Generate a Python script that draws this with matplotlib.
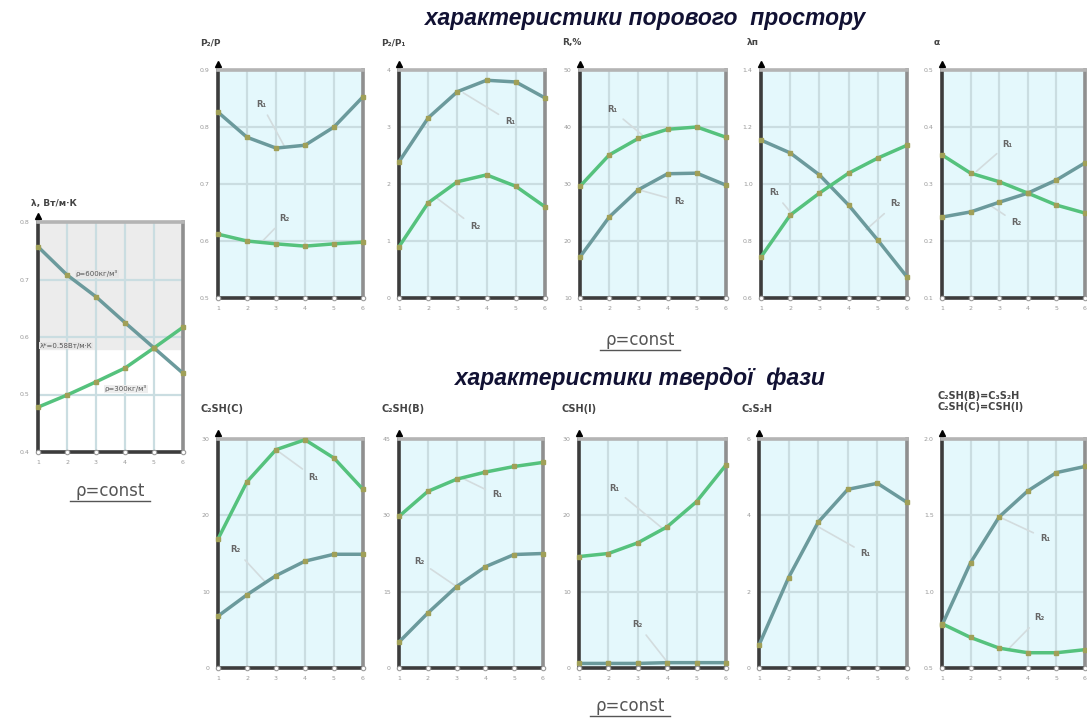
import matplotlib.pyplot as plt
from matplotlib.lines import Line2D

# common x values (1..6)
x = [1, 2, 3, 4, 5, 6]

# left panel: thermal conductivity
lam_600 = [0.757, 0.708, 0.670, 0.625, 0.581, 0.537]
lam_300 = [0.478, 0.499, 0.522, 0.546, 0.581, 0.617]
lam_star = 0.58

# pore space characteristics (top row)
p2p_r1 = [0.826, 0.782, 0.763, 0.768, 0.800, 0.853]
p2p_r2 = [0.612, 0.600, 0.595, 0.591, 0.595, 0.598]
p2p1_r1 = [2.39, 3.16, 3.62, 3.82, 3.79, 3.51]
p2p1_r2 = [0.90, 1.67, 2.04, 2.16, 1.96, 1.60]
rpct_r1 = [29.6, 35.1, 38.0, 39.6, 40.0, 38.2]
rpct_r2 = [17.2, 24.2, 29.0, 31.8, 31.9, 29.8]
lamp_r1 = [0.744, 0.891, 0.968, 1.038, 1.091, 1.136]
lamp_r2 = [1.154, 1.109, 1.032, 0.926, 0.803, 0.674]
alpha_r1 = [0.351, 0.319, 0.304, 0.284, 0.263, 0.249]
alpha_r2 = [0.242, 0.251, 0.268, 0.284, 0.307, 0.337]

# solid phase characteristics (bottom row)
c2shc_r1 = [16.9, 24.4, 28.6, 29.9, 27.5, 23.4]
c2shc_r2 = [6.8, 9.6, 12.1, 14.0, 14.9, 14.9]
c2shb_r1 = [29.8, 34.7, 37.1, 38.5, 39.6, 40.4]
c2shb_r2 = [5.1, 10.8, 16.0, 19.9, 22.3, 22.5]
cshi_r1 = [14.6, 15.0, 16.4, 18.5, 21.8, 26.6]
cshi_r2 = [0.6, 0.6, 0.6, 0.7, 0.7, 0.7]
c3s2h_r1 = [0.60, 2.37, 3.82, 4.68, 4.84, 4.34]
ratio_r1 = [0.78, 1.19, 1.49, 1.66, 1.78, 1.82]
ratio_r2 = [0.79, 0.70, 0.63, 0.60, 0.60, 0.62]

BG = '#e4f8fc'
BLUE = '#6b9a9c'
GREEN = '#55c27d'
GRID = '#cadde1'
MARK = '#a0a058'
TXT = '#666666'

fig = plt.figure(figsize=(10.87, 7.2), dpi=100)
W, H = 1087, 720


def px_axes(x0, x1, ytop, ybot):
    return fig.add_axes([x0 / W, 1 - ybot / H, (x1 - x0) / W, (ybot - ytop) / H])


def style(ax, ylim, yticks, ytl, bg=BG):
    ax.set_facecolor(bg)
    ax.set_xlim(1, 6)
    ax.set_ylim(*ylim)
    ax.set_xticks(x)
    ax.set_xticklabels([str(v) for v in x])
    ax.set_yticks(yticks)
    ax.set_yticklabels(ytl)
    ax.tick_params(length=0, labelsize=4.5, labelcolor='#999999', pad=6)
    ax.grid(True, color=GRID, lw=1.6)
    ax.set_axisbelow(True)
    for s in ['left', 'bottom']:
        ax.spines[s].set_color('#3c3c3c')
        ax.spines[s].set_linewidth(2.6)
    ax.spines['top'].set_color('#b4b4b4')
    ax.spines['right'].set_color('#8f8f8f')
    for s in ['top', 'right']:
        ax.spines[s].set_linewidth(2.6)
    ax.plot(x, [ylim[0]] * len(x), 'o', ms=3.2, mfc='white', mec='#9a9a9a',
            mew=0.8, clip_on=False, zorder=6)
    ax.plot([0], [1.025], marker='^', ms=4, color='black',
            transform=ax.transAxes, clip_on=False)


def curve(ax, y, color):
    ax.plot(x, y, color=color, lw=2.5, solid_capstyle='round',
            solid_joinstyle='round', zorder=4, clip_on=False)
    ax.plot(x, y, 's', ms=2.2, color=MARK, zorder=5, clip_on=False)


def label(ax, text, xy, xytext):
    ax.annotate(text, xy=xy, xytext=xytext, fontsize=6, fontweight='bold',
                color=TXT, ha='center', va='center', zorder=3,
                arrowprops=dict(arrowstyle='-', color='#d3dcde', lw=1.2,
                                shrinkA=3, shrinkB=0))


def ylab(ax, text, dx=-0.12, dy=1.08, size=6.5):
    ax.text(dx, dy, text, transform=ax.transAxes, fontsize=size,
            fontweight='bold', color='#444444', ha='left', va='bottom',
            linespacing=1.1)


def rho_const(cx, cy):
    fig.text(cx / W, 1 - cy / H, 'ρ=const', fontsize=12, color='#555555',
             ha='center', va='center')
    fig.add_artist(Line2D([(cx - 40) / W, (cx + 40) / W],
                          [1 - (cy + 10) / H] * 2, color='#555555', lw=1))


# ---- left panel ----
ax = px_axes(38, 183, 222, 452)
style(ax, (0.4, 0.8), [0.4, 0.5, 0.6, 0.7, 0.8],
      ['0.4', '0.5', '0.6', '0.7', '0.8'], bg='white')
ax.axhspan(lam_star, 0.8, color='#ececec', zorder=0)
curve(ax, lam_600, BLUE)
curve(ax, lam_300, GREEN)
ax.text(2.3, 0.71, 'ρ=600кг/м³', fontsize=5, color='#555555', va='center',
        bbox=dict(fc='#e6e6e6', ec='none', pad=0.5), zorder=3)
ax.text(1.05, 0.585, 'λ*=0.58Вт/м·К', fontsize=5, color='#555555', va='center',
        bbox=dict(fc='#e6e6e6', ec='none', pad=0.5), zorder=3)
ax.text(3.3, 0.51, 'ρ=300кг/м³', fontsize=5, color='#555555', va='center',
        bbox=dict(fc='#eeeeee', ec='none', pad=0.5), zorder=3)
ylab(ax, 'λ, Вт/м·К', dx=-0.05, dy=1.06)
rho_const(110, 491)

# ---- top row ----
top = dict(ytop=70, ybot=298)

ax = px_axes(218, 363, **top)
style(ax, (0.5, 0.9), [0.5, 0.6, 0.7, 0.8, 0.9],
      ['0.5', '0.6', '0.7', '0.8', '0.9'])
curve(ax, p2p_r1, BLUE)
curve(ax, p2p_r2, GREEN)
label(ax, 'R₁', (3.3, 0.765), (2.5, 0.84))
label(ax, 'R₂', (2.5, 0.598), (3.3, 0.64))
ylab(ax, 'P₂/P', dy=1.1)

ax = px_axes(399, 545, **top)
style(ax, (0, 4), [0, 1, 2, 3, 4], ['0', '1', '2', '3', '4'])
curve(ax, p2p1_r1, BLUE)
curve(ax, p2p1_r2, GREEN)
label(ax, 'R₁', (3.2, 3.6), (4.8, 3.1))
label(ax, 'R₂', (2.3, 1.75), (3.6, 1.25))
ylab(ax, 'P₂/P₁', dy=1.1)

ax = px_axes(580, 726, **top)
style(ax, (10, 50), [10, 20, 30, 40, 50], ['10', '20', '30', '40', '50'])
curve(ax, rpct_r1, GREEN)
curve(ax, rpct_r2, BLUE)
label(ax, 'R₁', (3.2, 38.3), (2.1, 43))
label(ax, 'R₂', (3.0, 29), (4.4, 27))
ylab(ax, 'R,%', dy=1.1)

ax = px_axes(761, 907, **top)
style(ax, (0.6, 1.4), [0.6, 0.8, 1.0, 1.2, 1.4],
      ['0.6', '0.8', '1.0', '1.2', '1.4'])
curve(ax, lamp_r2, BLUE)
curve(ax, lamp_r1, GREEN)
label(ax, 'R₁', (2.1, 0.89), (1.45, 0.97))
label(ax, 'R₂', (4.6, 0.84), (5.6, 0.93))
ylab(ax, 'λп', dx=-0.1, dy=1.1)

ax = px_axes(942, 1085, **top)
style(ax, (0.1, 0.5), [0.1, 0.2, 0.3, 0.4, 0.5],
      ['0.1', '0.2', '0.3', '0.4', '0.5'])
curve(ax, alpha_r2, BLUE)
curve(ax, alpha_r1, GREEN)
label(ax, 'R₁', (2.2, 0.322), (3.3, 0.37))
label(ax, 'R₂', (2.7, 0.262), (3.6, 0.232))
ylab(ax, 'α', dx=-0.06, dy=1.1)

fig.text(645 / W, 1 - 18 / H, 'характеристики порового  простору',
         fontsize=16.5, fontweight='bold', style='italic', color='#111133',
         family='Liberation Sans', ha='center', va='center')
rho_const(640, 340)

# ---- bottom row ----
bot = dict(ytop=439, ybot=668)

ax = px_axes(218, 363, **bot)
style(ax, (0, 30), [0, 10, 20, 30], ['0', '10', '20', '30'])
curve(ax, c2shc_r1, GREEN)
curve(ax, c2shc_r2, BLUE)
label(ax, 'R₁', (3.0, 28.6), (4.3, 25))
label(ax, 'R₂', (2.6, 11.4), (1.6, 15.5))
ylab(ax, 'C₂SH(C)', dy=1.11, size=7)

ax = px_axes(399, 543, **bot)
style(ax, (0, 45), [0, 15, 30, 45], ['0', '15', '30', '45'])
curve(ax, c2shb_r1, GREEN)
curve(ax, c2shb_r2, BLUE)
label(ax, 'R₁', (3.2, 37.3), (4.4, 34))
label(ax, 'R₂', (3.0, 16), (1.7, 21))
ylab(ax, 'C₂SH(B)', dy=1.11, size=7)

ax = px_axes(579, 726, **bot)
style(ax, (0, 30), [0, 10, 20, 30], ['0', '10', '20', '30'])
curve(ax, cshi_r1, GREEN)
curve(ax, cshi_r2, BLUE)
label(ax, 'R₁', (3.9, 18.1), (2.2, 23.5))
label(ax, 'R₂', (4.0, 0.8), (3.0, 5.7))
ylab(ax, 'CSH(I)', dy=1.11, size=7)

ax = px_axes(759, 907, **bot)
style(ax, (0, 6), [0, 2, 4, 6], ['0', '2', '4', '6'])
curve(ax, c3s2h_r1, BLUE)
label(ax, 'R₁', (3.0, 3.7), (4.6, 3.0))
ylab(ax, 'C₃S₂H', dy=1.11, size=7)

ax = px_axes(942, 1085, **bot)
style(ax, (0.5, 2.0), [0.5, 1.0, 1.5, 2.0], ['0.5', '1.0', '1.5', '2.0'])
curve(ax, ratio_r1, BLUE)
curve(ax, ratio_r2, GREEN)
label(ax, 'R₁', (3.0, 1.49), (4.6, 1.35))
label(ax, 'R₂', (3.3, 0.62), (4.4, 0.83))
ylab(ax, 'C₂SH(B)=C₃S₂H\nC₂SH(C)=CSH(I)', dx=-0.03, dy=1.12, size=7)

fig.text(640 / W, 1 - 378 / H, 'характеристики твердої  фази',
         fontsize=16.5, fontweight='bold', style='italic', color='#111133',
         family='Liberation Sans', ha='center', va='center')
rho_const(630, 706)

fig.savefig('out.png', dpi=100)
